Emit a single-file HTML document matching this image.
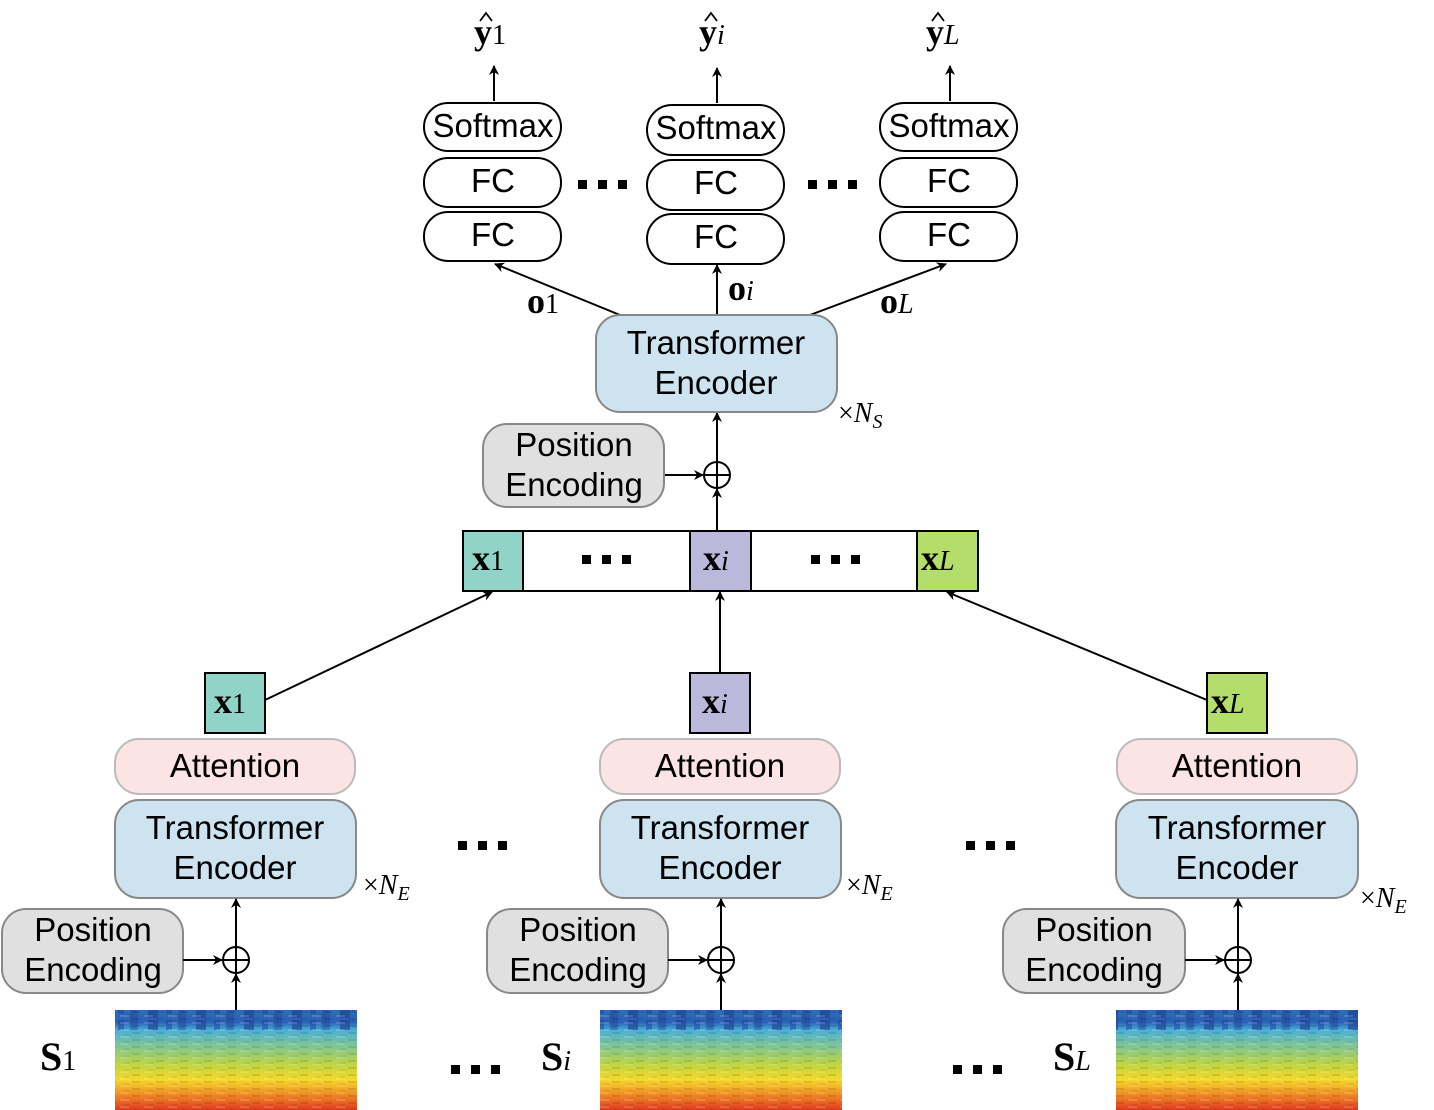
<!DOCTYPE html>
<html><head><meta charset="utf-8"><style>
html,body{margin:0;padding:0;background:#fff;width:1434px;height:1110px;overflow:hidden}
svg text{font-family:"Liberation Sans",sans-serif;}
svg .m text, svg text.m{font-family:"Liberation Serif",serif;}
</style></head><body>
<svg width="1434" height="1110" viewBox="0 0 1434 1110" xmlns="http://www.w3.org/2000/svg">
<defs>
<marker id="a" markerWidth="10" markerHeight="10" refX="9" refY="5" orient="auto" markerUnits="userSpaceOnUse"><path d="M0,0 L10,5 L0,10 L3,5 z" fill="#000"/></marker>
<linearGradient id="sp" x1="0" y1="0" x2="0" y2="1">
<stop offset="0" stop-color="#2a6fc0"/><stop offset="0.12" stop-color="#2c5fb5"/><stop offset="0.2" stop-color="#4ab0d8"/><stop offset="0.35" stop-color="#7cc49a"/><stop offset="0.55" stop-color="#c2d640"/><stop offset="0.7" stop-color="#f4d82a"/><stop offset="0.85" stop-color="#f08a25"/><stop offset="1" stop-color="#e03a20"/>
</linearGradient>
<pattern id="st" width="24" height="7" patternUnits="userSpaceOnUse"><rect x="0" y="0" width="9" height="2" fill="#fff" opacity="0.15"/><rect x="12" y="3" width="8" height="2" fill="#000" opacity="0.1"/><rect x="4" y="5" width="6" height="2" fill="#000" opacity="0.06"/></pattern>
<pattern id="tb" width="48" height="20" patternUnits="userSpaceOnUse"><rect x="4" y="0" width="10" height="18" fill="#1e3f95" opacity="0.6"/><rect x="22" y="0" width="6" height="14" fill="#1e3f95" opacity="0.5"/><rect x="34" y="0" width="8" height="20" fill="#1e3f95" opacity="0.4"/></pattern>
</defs>
<g stroke="#000" stroke-width="2" fill="none">
<line x1="494" y1="101" x2="494" y2="66" marker-end="url(#a)"/>
<line x1="717" y1="103" x2="717" y2="68" marker-end="url(#a)"/>
<line x1="950" y1="101" x2="950" y2="66" marker-end="url(#a)"/>
<line x1="620" y1="315" x2="495" y2="264" marker-end="url(#a)"/>
<line x1="717" y1="315" x2="717" y2="265" marker-end="url(#a)"/>
<line x1="810" y1="315" x2="946" y2="264" marker-end="url(#a)"/>
<line x1="664" y1="475" x2="703" y2="475" marker-end="url(#a)"/>
<line x1="717" y1="530" x2="717" y2="489" marker-end="url(#a)"/>
<line x1="717" y1="462" x2="717" y2="413" marker-end="url(#a)"/>
<line x1="265" y1="700" x2="492" y2="592" marker-end="url(#a)"/>
<line x1="720" y1="673" x2="720" y2="592" marker-end="url(#a)"/>
<line x1="1207" y1="700" x2="947" y2="592" marker-end="url(#a)"/>
<path d="M480,21 L486,13 L492,21" stroke-width="1.8"/>
<path d="M705,21 L711,13 L717,21" stroke-width="1.8"/>
<path d="M932,21 L938,13 L944,21" stroke-width="1.8"/>
</g>
<g stroke="#000" stroke-width="2" fill="#fff">
<rect x="424" y="103" width="137" height="48" rx="24"/>
<rect x="424" y="158" width="137" height="49" rx="24"/>
<rect x="424" y="212" width="137" height="49" rx="24"/>
<rect x="647" y="105" width="137" height="50" rx="25"/>
<rect x="647" y="160" width="137" height="50" rx="25"/>
<rect x="647" y="214" width="137" height="50" rx="25"/>
<rect x="880" y="103" width="137" height="48" rx="24"/>
<rect x="880" y="158" width="137" height="49" rx="24"/>
<rect x="880" y="212" width="137" height="49" rx="24"/>
</g>
<g font-size="33" text-anchor="middle">
<text x="493" y="137">Softmax</text><text x="493" y="192">FC</text><text x="493" y="246">FC</text>
<text x="716" y="139">Softmax</text><text x="716" y="194">FC</text><text x="716" y="248">FC</text>
<text x="949" y="137">Softmax</text><text x="949" y="192">FC</text><text x="949" y="246">FC</text>
</g>
<g fill="#000">
<rect x="578" y="180" width="9" height="9"/><rect x="598" y="180" width="9" height="9"/><rect x="618" y="180" width="9" height="9"/>
<rect x="808" y="180" width="9" height="9"/><rect x="828" y="180" width="9" height="9"/><rect x="848" y="180" width="9" height="9"/>
</g>
<g class="m" font-size="36">
<text x="474" y="44" font-weight="bold">y<tspan font-size="28" font-weight="normal">1</tspan></text>
<text x="699" y="44" font-weight="bold">y<tspan font-size="28" font-weight="normal" font-style="italic">i</tspan></text>
<text x="926" y="44" font-weight="bold">y<tspan font-size="28" font-weight="normal" font-style="italic">L</tspan></text>
<text x="527" y="313" font-weight="bold">o<tspan font-size="28" font-weight="normal">1</tspan></text>
<text x="728" y="300" font-weight="bold">o<tspan font-size="28" font-weight="normal" font-style="italic">i</tspan></text>
<text x="880" y="313" font-weight="bold">o<tspan font-size="28" font-weight="normal" font-style="italic">L</tspan></text>
<text x="838" y="422" font-size="28">×<tspan font-style="italic">N</tspan><tspan font-size="20" font-style="italic" dy="6">S</tspan></text>
<text x="363" y="894" font-size="28">×<tspan font-style="italic">N</tspan><tspan font-size="20" font-style="italic" dy="6">E</tspan></text>
<text x="846" y="894" font-size="28">×<tspan font-style="italic">N</tspan><tspan font-size="20" font-style="italic" dy="6">E</tspan></text>
<text x="1360" y="907" font-size="28">×<tspan font-style="italic">N</tspan><tspan font-size="20" font-style="italic" dy="6">E</tspan></text>
</g>
<rect x="596" y="315" width="241" height="97" rx="24" fill="#cde3f0" stroke="#888" stroke-width="2"/>
<text x="716" y="354" font-size="33" text-anchor="middle">Transformer</text>
<text x="716" y="394" font-size="33" text-anchor="middle">Encoder</text>
<rect x="483" y="424" width="181" height="83" rx="24" fill="#e0e0e0" stroke="#888" stroke-width="2"/>
<text x="574" y="456" font-size="33" text-anchor="middle">Position</text>
<text x="574" y="496" font-size="33" text-anchor="middle">Encoding</text>
<g stroke="#000" stroke-width="2" fill="none"><circle cx="717" cy="475" r="13"/><line x1="704" y1="475" x2="730" y2="475"/><line x1="717" y1="462" x2="717" y2="488"/></g>
<rect x="463" y="531" width="515" height="60" fill="#fff" stroke="#000" stroke-width="2"/>
<rect x="463" y="531" width="60" height="60" fill="#8fd4c6" stroke="#000" stroke-width="2"/>
<rect x="690" y="531" width="61" height="60" fill="#bcb8dc" stroke="#000" stroke-width="2"/>
<rect x="917" y="531" width="61" height="60" fill="#b3de69" stroke="#000" stroke-width="2"/>
<g fill="#000">
<rect x="582" y="555" width="9" height="9"/><rect x="602" y="555" width="9" height="9"/><rect x="622" y="555" width="9" height="9"/>
<rect x="811" y="555" width="9" height="9"/><rect x="831" y="555" width="9" height="9"/><rect x="851" y="555" width="9" height="9"/>
</g>
<g class="m" font-size="36">
<text x="472" y="570" font-weight="bold">x<tspan font-size="28" font-weight="normal">1</tspan></text>
<text x="703" y="570" font-weight="bold">x<tspan font-size="28" font-weight="normal" font-style="italic">i</tspan></text>
<text x="921" y="570" font-weight="bold">x<tspan font-size="28" font-weight="normal" font-style="italic">L</tspan></text>
</g>
<g>
<rect x="205" y="673" width="60" height="60" fill="#8fd4c6" stroke="#000" stroke-width="2"/>
<rect x="115" y="739" width="240" height="55" rx="24" fill="#fde4e4" stroke="#bbb" stroke-width="2"/>
<rect x="115" y="800" width="241" height="98" rx="24" fill="#cde3f0" stroke="#888" stroke-width="2"/>
<rect x="2" y="909" width="181" height="84" rx="24" fill="#e0e0e0" stroke="#888" stroke-width="2"/>
<rect x="115" y="1010" width="242" height="100" fill="url(#sp)"/>
<rect x="115" y="1010" width="242" height="20" fill="url(#tb)"/>
<rect x="115" y="1010" width="242" height="100" fill="url(#st)"/>
</g>
<g>
<rect x="690" y="673" width="60" height="60" fill="#bcb8dc" stroke="#000" stroke-width="2"/>
<rect x="600" y="739" width="240" height="55" rx="24" fill="#fde4e4" stroke="#bbb" stroke-width="2"/>
<rect x="600" y="800" width="241" height="98" rx="24" fill="#cde3f0" stroke="#888" stroke-width="2"/>
<rect x="487" y="909" width="181" height="84" rx="24" fill="#e0e0e0" stroke="#888" stroke-width="2"/>
<rect x="600" y="1010" width="242" height="100" fill="url(#sp)"/>
<rect x="600" y="1010" width="242" height="20" fill="url(#tb)"/>
<rect x="600" y="1010" width="242" height="100" fill="url(#st)"/>
</g>
<g>
<rect x="1207" y="673" width="60" height="60" fill="#b3de69" stroke="#000" stroke-width="2"/>
<rect x="1117" y="739" width="240" height="55" rx="24" fill="#fde4e4" stroke="#bbb" stroke-width="2"/>
<rect x="1116" y="800" width="242" height="98" rx="24" fill="#cde3f0" stroke="#888" stroke-width="2"/>
<rect x="1003" y="909" width="182" height="84" rx="24" fill="#e0e0e0" stroke="#888" stroke-width="2"/>
<rect x="1116" y="1010" width="242" height="100" fill="url(#sp)"/>
<rect x="1116" y="1010" width="242" height="20" fill="url(#tb)"/>
<rect x="1116" y="1010" width="242" height="100" fill="url(#st)"/>
</g>
<g font-size="33" text-anchor="middle">
<text x="235" y="777">Attention</text><text x="235" y="839">Transformer</text><text x="235" y="879">Encoder</text>
<text x="93" y="941">Position</text><text x="93" y="981">Encoding</text>
<text x="720" y="777">Attention</text><text x="720" y="839">Transformer</text><text x="720" y="879">Encoder</text>
<text x="578" y="941">Position</text><text x="578" y="981">Encoding</text>
<text x="1237" y="777">Attention</text><text x="1237" y="839">Transformer</text><text x="1237" y="879">Encoder</text>
<text x="1094" y="941">Position</text><text x="1094" y="981">Encoding</text>
</g>
<g class="m" font-size="36">
<text x="214" y="713" font-weight="bold">x<tspan font-size="28" font-weight="normal">1</tspan></text>
<text x="702" y="713" font-weight="bold">x<tspan font-size="28" font-weight="normal" font-style="italic">i</tspan></text>
<text x="1211" y="713" font-weight="bold">x<tspan font-size="28" font-weight="normal" font-style="italic">L</tspan></text>
<text x="40" y="1070" font-size="40" font-weight="bold">S<tspan font-size="28" font-weight="normal">1</tspan></text>
<text x="541" y="1070" font-size="40" font-weight="bold">S<tspan font-size="28" font-weight="normal" font-style="italic">i</tspan></text>
<text x="1053" y="1070" font-size="40" font-weight="bold">S<tspan font-size="28" font-weight="normal" font-style="italic">L</tspan></text>
</g>
<g stroke="#000" stroke-width="2" fill="none">
<line x1="236" y1="1010" x2="236" y2="974" marker-end="url(#a)"/>
<line x1="183" y1="960" x2="222" y2="960" marker-end="url(#a)"/>
<line x1="236" y1="947" x2="236" y2="899" marker-end="url(#a)"/>
<circle cx="236" cy="960" r="13"/><line x1="223" y1="960" x2="249" y2="960"/><line x1="236" y1="947" x2="236" y2="973"/>
<line x1="721" y1="1010" x2="721" y2="974" marker-end="url(#a)"/>
<line x1="668" y1="960" x2="707" y2="960" marker-end="url(#a)"/>
<line x1="721" y1="947" x2="721" y2="899" marker-end="url(#a)"/>
<circle cx="721" cy="960" r="13"/><line x1="708" y1="960" x2="734" y2="960"/><line x1="721" y1="947" x2="721" y2="973"/>
<line x1="1238" y1="1010" x2="1238" y2="974" marker-end="url(#a)"/>
<line x1="1185" y1="960" x2="1224" y2="960" marker-end="url(#a)"/>
<line x1="1238" y1="947" x2="1238" y2="899" marker-end="url(#a)"/>
<circle cx="1238" cy="960" r="13"/><line x1="1225" y1="960" x2="1251" y2="960"/><line x1="1238" y1="947" x2="1238" y2="973"/>
</g>
<g fill="#000">
<rect x="458" y="841" width="9" height="9"/><rect x="478" y="841" width="9" height="9"/><rect x="498" y="841" width="9" height="9"/>
<rect x="966" y="841" width="9" height="9"/><rect x="986" y="841" width="9" height="9"/><rect x="1006" y="841" width="9" height="9"/>
<rect x="451" y="1065" width="9" height="9"/><rect x="471" y="1065" width="9" height="9"/><rect x="491" y="1065" width="9" height="9"/>
<rect x="953" y="1065" width="9" height="9"/><rect x="973" y="1065" width="9" height="9"/><rect x="993" y="1065" width="9" height="9"/>
</g>
</svg>
</body></html>
